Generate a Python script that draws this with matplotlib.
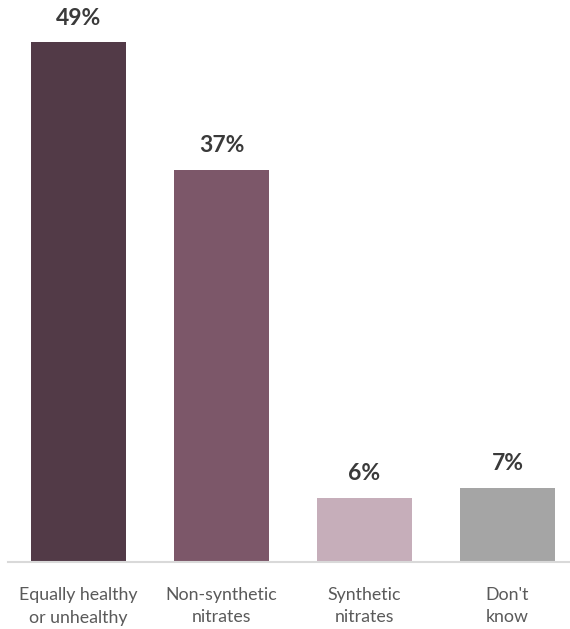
import matplotlib
matplotlib.use("Agg")
from matplotlib import pyplot as plt

categories = ["Equally healthy\nor unhealthy", "Non-synthetic\nnitrates", "Synthetic\nnitrates", "Don't\nknow"]
values = [49, 37, 6, 7]
labels = ["49%", "37%", "6%", "7%"]
colors = ["#523a47", "#7c5769", "#c6aeba", "#a5a5a5"]

plt.rcParams['font.family'] = ['Lato', 'DejaVu Sans']

fig = plt.figure(figsize=(5.7, 6.29), dpi=100)
ax = fig.add_axes([8 / 570, (629 - 562) / 629, 562 / 570, 562 / 629])

xs = range(len(values))
ax.bar(xs, values, width=0.664, color=colors)
for x, v, lab in zip(xs, values, labels):
    ax.annotate(lab, (x, v), xytext=(0, 10), textcoords="offset points",
                ha="center", va="bottom", fontsize=16.5, fontweight="bold", color="#3a3a3a")

ax.set_xlim(-0.493, 3.437)
ax.set_ylim(0, 53)
ax.set_xticks(list(xs))
ax.set_xticklabels(categories, fontsize=12.8, color="#5a5a5a", linespacing=1.5)
ax.tick_params(axis="x", length=0, pad=18)
ax.set_yticks([])
for side in ["top", "right", "left"]:
    ax.spines[side].set_visible(False)
ax.spines["bottom"].set_color("#d9d9d9")
ax.spines["bottom"].set_linewidth(1.5)

plt.savefig("out.png", dpi=100)
